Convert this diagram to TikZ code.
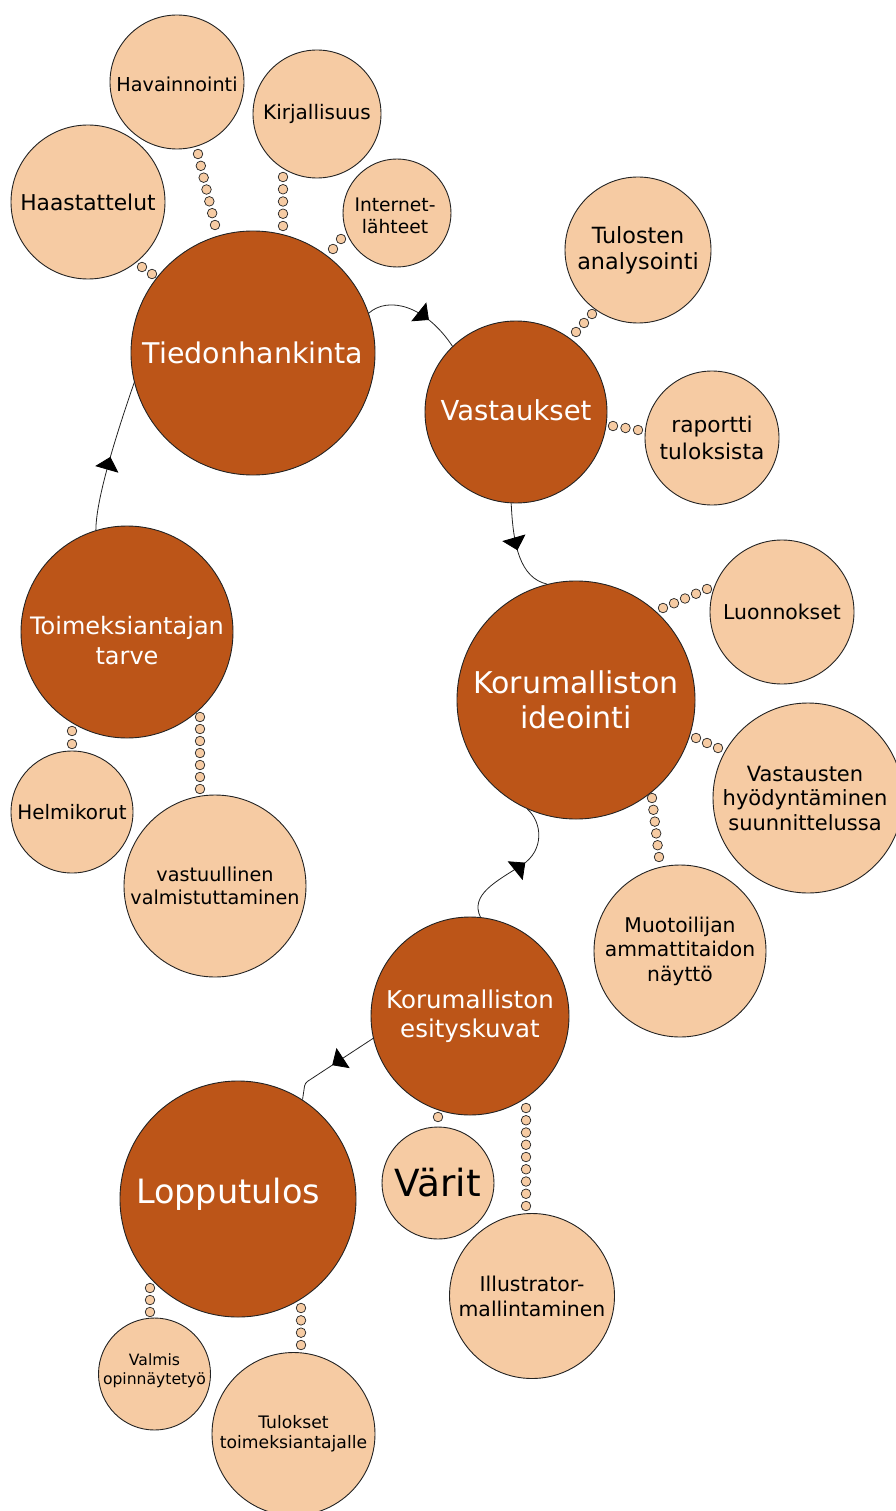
\documentclass[tikz,border=0pt]{standalone}
\usepackage{fontspec}
\setmainfont{DejaVu Sans}
\usetikzlibrary{arrows.meta,decorations.markings,calc}
\definecolor{rust}{RGB}{188,85,24}
\definecolor{peach}{RGB}{246,203,163}
\definecolor{edge}{RGB}{35,35,35}
\newcommand\fsz[2]{\fontsize{#1}{#2}\selectfont}
\newcommand\beadchain[3]{\foreach \k in {1,...,#3}{\pgfmathsetmacro\beadt{(\k-1)/max(#3-1,1)}\filldraw[bead] ($#1!\beadt!#2$) circle[radius=4.8pt];}}
\tikzset{
  big/.style={circle, draw=edge, line width=0.9pt, fill=rust, inner sep=0pt, minimum size=#1},
  small/.style={circle, draw=edge, line width=0.9pt, fill=peach, inner sep=0pt, minimum size=#1},
  wtxt/.style={text=white, align=center, inner sep=0pt},
  btxt/.style={text=black, align=center, inner sep=0pt},
  bead/.style={fill=peach, draw=edge, line width=0.7pt},
  conn/.style={draw=edge, line width=0.8pt, postaction={decorate},
    decoration={markings, mark=at position #1 with {\arrow[black]{Triangle[length=13pt,width=24pt]}}}},
}
\begin{document}
\begin{tikzpicture}[x=1pt,y=-1pt]
\useasboundingbox (0,0) rectangle (895,1511);
% main circles
\node[big=244pt, label={[wtxt,font=\fsz{28.5}{34}]center:Tiedonhankinta}] (tied) at (253,353) {};
\node[big=182pt, label={[wtxt,font=\fsz{27.5}{33},yshift=2pt]center:Vastaukset}] (vast) at (516,412) {};
\node[big=238pt, label={[wtxt,font=\fsz{30}{35}]center:Korumalliston\\ideointi}] (kori) at (576,700) {};
\node[big=198pt, label={[wtxt,font=\fsz{24.5}{29}]center:Korumalliston\\esityskuvat}] (esit) at (470,1016) {};
\node[big=236pt, label={[wtxt,font=\fsz{33.5}{40},xshift=-10pt,yshift=5pt]center:Lopputulos}] (lop) at (238,1199) {};
\node[big=212pt, label={[wtxt,font=\fsz{24}{30},yshift=-9pt]center:Toimeksiantajan\\tarve}] (toim) at (127,632) {};
% small circles
\node[small=134pt, label={[btxt,font=\fsz{19.2}{23},yshift=-2pt]center:Havainnointi}] (hav) at (177,82) {};
\node[small=128pt, label={[btxt,font=\fsz{20}{24}]center:Kirjallisuus}] (kirj) at (317,114) {};
\node[small=154pt, label={[btxt,font=\fsz{21.8}{26}]center:Haastattelut}] (haas) at (88,202) {};
\node[small=108pt, label={[btxt,font=\fsz{18.7}{22},xshift=-2pt,yshift=-3pt]center:Internet-\\lähteet}] (int) at (397,213) {};
\node[small=146pt, label={[btxt,font=\fsz{22.3}{26}]center:Tulosten\\analysointi}] (tul) at (638,250) {};
\node[small=134pt, label={[btxt,font=\fsz{21.7}{27}]center:raportti\\tuloksista}] (rap) at (712,438) {};
\node[small=144pt, label={[btxt,font=\fsz{20.4}{24}]center:Luonnokset}] (luo) at (782,612) {};
\node[small=190pt, label={[btxt,font=\fsz{21}{24.5},xshift=-3pt]center:Vastausten\\hyödyntäminen\\suunnittelussa}] (vasth) at (808,798) {};
\node[small=172pt, label={[btxt,font=\fsz{20.3}{24.5}]center:Muotoilijan\\ammattitaidon\\näyttö}] (muo) at (680,951) {};
\node[small=122pt, label={[btxt,font=\fsz{19.9}{24}]center:Helmikorut}] (helm) at (72,812) {};
\node[small=182pt, label={[btxt,font=\fsz{19.2}{23}]center:vastuullinen\\valmistuttaminen}] (vastu) at (215,886) {};
\node[small=112pt, label={[btxt,font=\fsz{37.4}{44}]center:Värit}] (var) at (438,1183) {};
\node[small=165pt, label={[btxt,font=\fsz{20.4}{25}]center:Illustrator-\\mallintaminen}] (ill) at (532,1296) {};
\node[small=112pt, label={[btxt,font=\fsz{15.6}{19},yshift=3pt]center:Valmis\\opinnäytetyö}] (val) at (154.5,1374) {};
\node[small=163pt, label={[btxt,font=\fsz{17.2}{20}]center:Tulokset\\toimeksiantajalle}] (tulo) at (293.5,1434) {};
% connectors
\coordinate (d1) at (522,865);
\coordinate (d2) at (305,1083);
\draw[conn=0.49] (toim.107) .. controls +(0,-35) and +(-12,35) .. (tied.194);
\draw[conn=0.65] (tied.19) .. controls (388,296) and (425,305) .. (vast.134);
\draw[conn=0.5] (vast.267) .. controls (513,545) and (520,578) .. (kori.104);
\draw[conn=0.56] (esit.84) .. controls (470,895) and (495,882) .. (d1) .. controls (545,850) and (542,822) .. (kori.246);
\draw[conn=0.5, rounded corners=3pt] (esit.193) -- (d2) -- (lop.57);
% bead chains
\beadchain{(142,267)}{(152,274)}{2}
\beadchain{(198,154)}{(215,225)}{7}
\beadchain{(283,177)}{(283,226)}{5}
\beadchain{(341,239)}{(333,249)}{2}
\beadchain{(592,314)}{(576,332)}{3}
\beadchain{(613,426)}{(638,430)}{3}
\beadchain{(663,608)}{(707,589)}{5}
\beadchain{(696,738)}{(718,748)}{3}
\beadchain{(652,798)}{(659,857)}{6}
\beadchain{(72,731)}{(72,744)}{2}
\beadchain{(200,717)}{(200,789)}{7}
\beadchain{(438,1117)}{(438,1117)}{1}
\beadchain{(526,1108)}{(526,1206)}{9}
\beadchain{(150,1288)}{(150,1312)}{3}
\beadchain{(301,1308)}{(301,1345)}{4}
\end{tikzpicture}
\end{document}
